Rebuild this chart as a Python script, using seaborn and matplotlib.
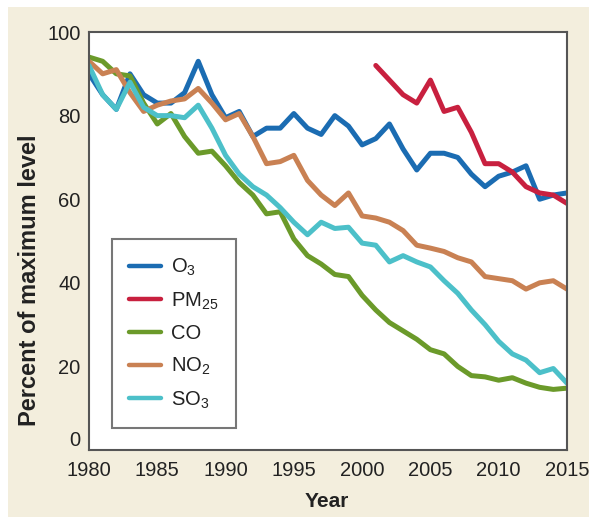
import matplotlib
matplotlib.use("Agg")
import matplotlib.pyplot as plt
import matplotlib.patches as mpatches
import numpy as np
import pandas as pd
import seaborn as sns

# values (percent of maximum level)
years = list(range(1980, 2016))

o3 = [90, 85, 81.5, 90, 85, 83, 83, 85.5, 93, 85, 79.5, 81, 75, 77, 77, 80.5,
      77, 75.5, 80, 77.5, 73, 74.5, 78, 72, 67, 71, 71, 70, 66, 63, 65.5, 66.5,
      68, 60, 61, 61.5]
pm25 = [np.nan] * 21 + [92, 88.5, 85, 83, 88.5, 81, 82, 76, 68.5, 68.5, 66.5,
                        63, 61.5, 61, 59]
co = [94, 93, 90, 89.5, 83, 78, 80.5, 75, 71, 71.5, 68, 64, 61, 56.5, 57, 50.5,
      46.5, 44.5, 42, 41.5, 37, 33.5, 30.5, 28.5, 26.5, 24, 23, 20, 17.8, 17.5,
      16.7, 17.3, 16, 15, 14.5, 14.8]
no2 = [93, 90, 91, 85.5, 81, 82.5, 83.5, 84, 86.5, 83, 79, 80.5, 75, 68.5, 69,
       70.5, 64.5, 61, 58.5, 61.5, 56, 55.5, 54.5, 52.5, 49, 48.3, 47.5, 46, 45,
       41.5, 41, 40.5, 38.5, 40, 40.5, 38.5]
so3 = [92, 85, 81.5, 88, 82, 80, 80, 79.5, 82.5, 77, 70.5, 66, 63, 61, 58, 54.5,
       51.5, 54.5, 53, 53.3, 49.5, 49, 45, 46.5, 45, 43.8, 40.5, 37.5, 33.5, 30,
       26, 23, 21.5, 18.5, 19.5, 16]

labels = ["O$_3$", "PM$_{25}$", "CO", "NO$_2$", "SO$_3$"]
colors = ["#1b6cb2", "#c8203f", "#6b9a2a", "#c98153", "#4cc0c9"]

df = pd.DataFrame({"Year": years * 5,
                   "value": o3 + pm25 + co + no2 + so3,
                   "series": sum([[lab] * len(years) for lab in labels], [])})
df = df.dropna()

sns.set_style("white")
plt.rcParams["font.family"] = ["Liberation Sans", "DejaVu Sans"]
plt.rcParams["mathtext.default"] = "regular"

fig = plt.figure(figsize=(5.89, 5.19), dpi=100)
fig.patches.append(mpatches.Rectangle((0.0136, 0.004), 0.99, 0.9825,
                                      transform=fig.transFigure,
                                      facecolor="#f3eedd", edgecolor="none",
                                      zorder=-10))
ax = fig.add_axes([0.1511, 0.1329, 0.8115, 0.8054])
ax.set_facecolor("white")

sns.lineplot(data=df, x="Year", y="value", hue="series", hue_order=labels,
             palette=colors, linewidth=3.6, ax=ax,
             solid_joinstyle="round", solid_capstyle="round")

ax.set_xlim(1980, 2015)
ax.set_ylim(0, 100)
ax.set_xticks(range(1980, 2016, 5))
ax.set_yticks(range(0, 101, 20))
ax.tick_params(direction="in", length=7, width=1.2, colors="#333333",
               labelsize=14.5, labelcolor="#222222")
ax.tick_params(axis="x", pad=8)
ax.tick_params(axis="y", pad=6)
ax.get_yticklabels()[0].set_va("bottom")
for s in ax.spines.values():
    s.set_color("#555555")
    s.set_linewidth(1.5)

ax.set_xlabel("Year", fontsize=15, fontweight="bold", color="#222222")
ax.set_ylabel("Percent of maximum level", fontsize=17, fontweight="bold",
              color="#222222")
ax.xaxis.set_label_coords(0.498, -0.10)
ax.yaxis.set_label_coords(-0.1, 0.405)

leg = ax.legend(loc="lower left", bbox_to_anchor=(0.048, 0.053),
                borderaxespad=0, fontsize=14.5, handlelength=1.6,
                handletextpad=0.5, labelspacing=0.62, borderpad=0.85,
                frameon=True, fancybox=False, title=None)
leg.get_frame().set_edgecolor("#555555")
leg.get_frame().set_linewidth(1.5)
for t in leg.get_texts():
    t.set_color("#222222")
for h in leg.get_lines():
    h.set_linewidth(3.2)

plt.savefig("out.png", dpi=100)
